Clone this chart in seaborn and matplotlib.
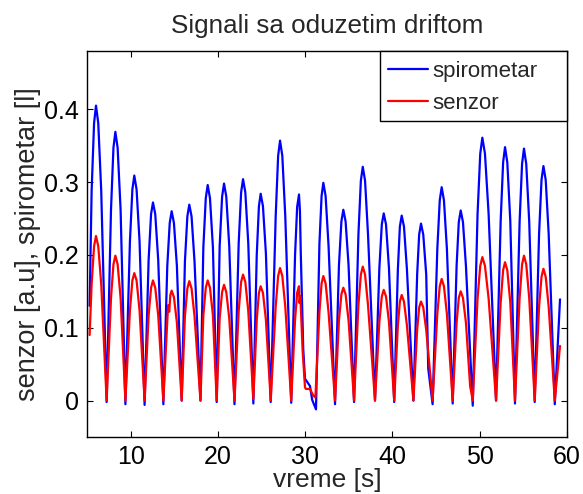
import matplotlib
matplotlib.use("Agg")
import matplotlib.pyplot as plt
from matplotlib.patches import Rectangle
import seaborn as sns
import pandas as pd

# ---- data (troughs, flanks and peaks of every breath) ----
spiro_t = [5.3, 5.53, 5.81, 6.03, 6.29, 6.63, 7.25,
           7.75, 8.03, 8.25, 8.51, 8.85, 9.4,
           9.92, 10.2, 10.42, 10.68, 11.02, 11.6,
           12.06, 12.34, 12.56, 12.82, 13.16, 13.75,
           14.2, 14.48, 14.7, 14.96, 15.3, 15.85,
           16.22, 16.5, 16.72, 16.98, 17.32, 18.0,
           18.33, 18.61, 18.83, 19.09, 19.43, 19.86,
           20.2, 20.48, 20.7, 20.96, 21.3, 21.9,
           22.38, 22.66, 22.88, 23.14, 23.48, 24.06,
           24.45, 24.7, 24.9, 25.16, 25.5, 26.05,
           26.62, 26.9, 27.12, 27.38, 27.72, 28.4,
           28.84, 29.08, 29.29, 29.4, 29.5, 29.78, 29.98, 30.55, 30.8, 31.24,
           31.63, 31.88, 32.08, 32.34, 32.68, 33.42,
           33.87, 34.15, 34.37, 34.63, 34.97, 35.6,
           36.1, 36.38, 36.6, 36.86, 37.2, 38.0,
           38.5, 38.78, 39.0, 39.26, 39.6, 40.2,
           40.62, 40.85, 41.06, 41.32, 41.66, 42.4,
           42.83, 43.06, 43.27, 43.53, 43.87, 44.1, 44.6,
           45.14, 45.42, 45.64, 45.9, 46.24, 46.9,
           47.35, 47.6, 47.82, 48.08, 48.42, 49.2,
           49.75, 50.06, 50.3, 50.6, 51.02, 51.87,
           52.4, 52.68, 52.9, 53.16, 53.5, 54.04,
           54.57, 54.85, 55.07, 55.33, 55.67, 56.3,
           56.8, 57.08, 57.3, 57.56, 57.9, 58.6,
           59.2]
spiro_v = [0.13, 0.288, 0.381, 0.405, 0.381, 0.288, -0.002,
           0.262, 0.347, 0.369, 0.347, 0.262, -0.005,
           0.219, 0.29, 0.309, 0.29, 0.219, -0.006,
           0.193, 0.256, 0.272, 0.256, 0.193, -0.005,
           0.185, 0.244, 0.26, 0.244, 0.185, 0.0,
           0.191, 0.253, 0.269, 0.253, 0.191, 0.0,
           0.21, 0.278, 0.296, 0.278, 0.21, -0.002,
           0.212, 0.28, 0.298, 0.28, 0.212, -0.005,
           0.216, 0.286, 0.304, 0.286, 0.216, -0.004,
           0.2, 0.267, 0.284, 0.267, 0.202, -0.002,
           0.253, 0.336, 0.357, 0.336, 0.253, -0.003,
           0.2, 0.266, 0.283, 0.26, 0.2, 0.07, 0.03, 0.02, 0.001, -0.012,
           0.215, 0.281, 0.299, 0.281, 0.212, -0.005,
           0.186, 0.246, 0.262, 0.246, 0.186, -0.002,
           0.228, 0.302, 0.321, 0.302, 0.228, 0.0,
           0.182, 0.242, 0.257, 0.242, 0.182, -0.002,
           0.18, 0.239, 0.254, 0.239, 0.18, 0.0,
           0.173, 0.228, 0.243, 0.228, 0.173, 0.044, -0.005,
           0.208, 0.275, 0.293, 0.275, 0.208, -0.004,
           0.185, 0.245, 0.261, 0.245, 0.185, -0.007,
           0.256, 0.339, 0.361, 0.339, 0.256, 0.0,
           0.247, 0.327, 0.348, 0.327, 0.247, -0.004,
           0.246, 0.325, 0.346, 0.325, 0.246, -0.002,
           0.229, 0.303, 0.322, 0.303, 0.229, -0.005,
           0.139]

senzor_t = [5.3, 5.53, 5.81, 6.03, 6.29, 6.63, 7.25,
            7.75, 8.03, 8.25, 8.51, 8.85, 9.4,
            9.92, 10.2, 10.42, 10.68, 11.02, 11.6,
            12.06, 12.34, 12.56, 12.82, 13.16, 13.75,
            14.2, 14.3, 14.42, 14.55, 14.7, 14.96, 15.3, 15.85,
            16.22, 16.5, 16.72, 16.98, 17.32, 18.0,
            18.33, 18.61, 18.83, 19.09, 19.43, 19.86,
            20.2, 20.48, 20.7, 20.96, 21.3, 21.9,
            22.38, 22.66, 22.88, 23.14, 23.48, 24.06,
            24.45, 24.7, 24.9, 25.16, 25.5, 26.05,
            26.62, 26.9, 27.12, 27.38, 27.72, 28.4,
            28.84, 29.08, 29.29, 29.35, 29.45, 29.7, 29.98, 30.09, 30.55, 30.93, 31.17,
            31.63, 31.88, 32.08, 32.34, 32.68, 33.42,
            33.87, 34.15, 34.37, 34.63, 34.97, 35.6,
            36.1, 36.38, 36.6, 36.86, 37.2, 38.0,
            38.5, 38.78, 39.0, 39.26, 39.6, 40.2,
            40.62, 40.85, 41.06, 41.32, 41.66, 42.4,
            42.83, 43.06, 43.27, 43.53, 43.87, 44.6,
            45.14, 45.42, 45.64, 45.9, 46.24, 46.9,
            47.35, 47.6, 47.82, 48.08, 48.42, 48.9, 49.2,
            49.75, 50.06, 50.3, 50.6, 51.02, 51.87,
            52.4, 52.68, 52.9, 53.16, 53.5, 54.04,
            54.57, 54.85, 55.07, 55.33, 55.67, 56.3,
            56.8, 57.08, 57.3, 57.56, 57.9, 58.6,
            59.2]
senzor_v = [0.09, 0.16, 0.212, 0.226, 0.212, 0.16, 0.0,
            0.141, 0.187, 0.199, 0.187, 0.141, 0.0,
            0.124, 0.165, 0.175, 0.165, 0.124, 0.0,
            0.117, 0.155, 0.165, 0.155, 0.117, 0.0,
            0.11, 0.131, 0.122, 0.145, 0.151, 0.142, 0.107, 0.0,
            0.116, 0.154, 0.164, 0.154, 0.116, 0.0,
            0.117, 0.155, 0.165, 0.155, 0.117, 0.0,
            0.113, 0.149, 0.159, 0.149, 0.113, 0.0,
            0.123, 0.163, 0.173, 0.163, 0.123, 0.002,
            0.111, 0.148, 0.157, 0.148, 0.111, 0.0,
            0.129, 0.171, 0.182, 0.171, 0.129, 0.0,
            0.111, 0.148, 0.157, 0.134, 0.143, 0.07, 0.018, 0.016, 0.016, 0.007, 0.004,
            0.121, 0.161, 0.171, 0.161, 0.121, 0.0,
            0.11, 0.146, 0.155, 0.146, 0.11, 0.0,
            0.131, 0.173, 0.184, 0.173, 0.131, 0.0,
            0.108, 0.143, 0.152, 0.143, 0.108, 0.0,
            0.103, 0.136, 0.145, 0.136, 0.103, 0.0,
            0.097, 0.128, 0.136, 0.128, 0.097, 0.0,
            0.119, 0.157, 0.167, 0.157, 0.119, 0.0,
            0.107, 0.141, 0.15, 0.141, 0.107, 0.02, 0.0,
            0.14, 0.185, 0.197, 0.185, 0.14, 0.0,
            0.135, 0.179, 0.19, 0.179, 0.135, 0.0,
            0.141, 0.187, 0.199, 0.187, 0.141, 0.0,
            0.129, 0.17, 0.181, 0.17, 0.129, 0.0,
            0.075]

series_names = ["spirometar", "senzor"]
x_ticks = [10, 20, 30, 40, 50, 60]
y_ticks = [0, 0.1, 0.2, 0.3, 0.4]
y_tick_labels = ["0", "0.1", "0.2", "0.3", "0.4"]

df = pd.concat([
    pd.DataFrame({"t": spiro_t, "v": spiro_v, "s": series_names[0]}),
    pd.DataFrame({"t": senzor_t, "v": senzor_v, "s": series_names[1]}),
], ignore_index=True)

sns.set_style("ticks")
plt.rcParams["font.family"] = ["Liberation Sans", "DejaVu Sans"]

W, H = 583, 494
fig = plt.figure(figsize=(W / 100, H / 100), dpi=100)
ax = fig.add_axes([87 / W, 1 - 437 / H, 480 / W, 386 / H])

sns.lineplot(data=df, x="t", y="v", hue="s",
             palette={"spirometar": "#0000ff", "senzor": "#ff0000"},
             estimator=None, sort=False, linewidth=1.6, ax=ax, legend=False)
for ln in ax.get_lines():
    ln.set_solid_joinstyle("round")

ax.set_xlim(5, 60)
ax.set_ylim(-0.05, 0.48)
ax.set_xticks(x_ticks)
ax.set_yticks(y_ticks)
ax.set_yticklabels(y_tick_labels)
ax.tick_params(direction="in", length=4, width=0.8, top=True, right=True,
               labelsize=18, colors="black", pad=6)
for sp in ax.spines.values():
    sp.set_color("black")
    sp.set_linewidth(1.0)
    sp.set_visible(True)

ax.set_title("Signali sa oduzetim driftom", fontsize=18.7, pad=13)
ax.set_xlabel("vreme [s]", fontsize=19, labelpad=-1)
ax.set_ylabel("senzor [a.u], spirometar [l]", fontsize=19.5, labelpad=2)

# legend box (MATLAB style, touching the top-right corner)
box_x0 = (380 - 87) / 480
box_y0 = (437 - 121) / 386
ax.add_patch(Rectangle((box_x0, box_y0), 1 - box_x0, 1 - box_y0,
                       transform=ax.transAxes, facecolor="white",
                       edgecolor="black", linewidth=1.0, zorder=5, clip_on=False))
lines = ax.get_lines()
leg = ax.legend(lines[:2], series_names, loc="upper left",
                bbox_to_anchor=(box_x0, 1.0 - 2 / 386), borderaxespad=0,
                fontsize=16, frameon=False,
                handlelength=1.8, handletextpad=0.22, labelspacing=0.5,
                borderpad=0.35)
leg.set_zorder(6)

fig.savefig("out.png", dpi=100, facecolor="white")
